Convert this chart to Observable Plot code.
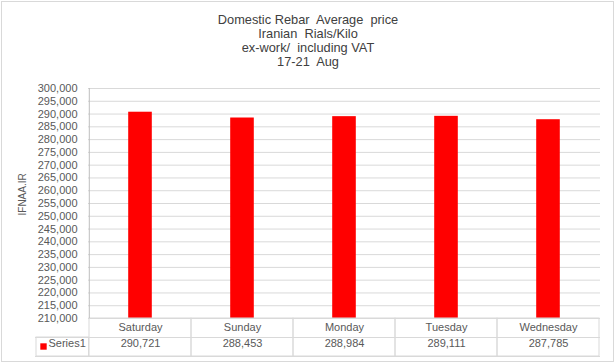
<!DOCTYPE html>
<html>
<head>
<meta charset="utf-8">
<script src="https://cdn.jsdelivr.net/npm/d3@7"></script>
<script src="https://cdn.jsdelivr.net/npm/@observablehq/plot@0.6"></script>
<style>
  html, body { margin: 0; padding: 0; background: #fff; }
  #wrap { position: relative; width: 614px; height: 363px; overflow: hidden; background: #fff; }
  #title { position: absolute; left: 1px; top: 13px; width: 614px; text-align: center;
    font-family: "Liberation Sans", Arial, sans-serif; font-size: 12.8px; line-height: 14px; color: #404040; white-space: pre; }
  #border { position: absolute; left: 1px; top: 1px; width: 611px; height: 359px; border: 1px solid #d9d9d9; pointer-events: none; }
  #chart { position: absolute; left: 0; top: 0; }
</style>
</head>
<body>
<div id="wrap">
  <div id="chart"></div>
  <div id="title"></div>
  <div id="border"></div>
</div>
<script>
const titleLines = ["Domestic Rebar  Average  price", "Iranian  Rials/Kilo", "ex-work/  including VAT", "17-21  Aug"];
const days = ["Saturday", "Sunday", "Monday", "Tuesday", "Wednesday"];
const prices = [290721, 288453, 288984, 289111, 287785];
const yTicks = [210000, 215000, 220000, 225000, 230000, 235000, 240000, 245000, 250000, 255000,
  260000, 265000, 270000, 275000, 280000, 285000, 290000, 295000, 300000];
const yMin = 210000, yMax = 300000;
const seriesName = "Series1";
const axisTitle = "IFNAA.IR";

document.getElementById("title").textContent = titleLines.join("\n");

const data = days.map((day, i) => ({day, price: prices[i]}));
const fmt = d3.format(",");
const grid = "#d9d9d9";
const textColor = "#595959";

const chart = Plot.plot({
  width: 614,
  height: 363,
  marginTop: 88,
  marginBottom: 45,
  marginLeft: 88,
  marginRight: 14,
  style: {fontFamily: "'Liberation Sans', Arial, sans-serif", fontSize: "11px", color: textColor, background: "transparent"},
  x: {domain: days, padding: 0, label: null},
  y: {domain: [yMin, yMax], label: null},
  marks: [
    Plot.gridY(yTicks, {stroke: grid, strokeOpacity: 1}),
    Plot.barY(data, {x: "day", y1: () => yMin, y2: "price", fill: "#ff0000", insetLeft: 39.2, insetRight: 39.2}),
    Plot.axisY(yTicks, {tickSize: 0, tickPadding: 11, tickFormat: fmt, label: null, fill: textColor}),
    Plot.axisX({tickSize: 0, tickPadding: 5, label: null, fill: textColor}),
    // table cells
    Plot.cell(days, {x: d => d, fill: "none", stroke: grid, insetTop: 230, insetBottom: -38}),
    Plot.ruleY([yMin], {dy: 19, insetLeft: -53, stroke: grid}),
    Plot.ruleY([yMin], {dy: 38, insetLeft: -53, stroke: grid}),
    Plot.cell(days.slice(0, 1), {x: d => d, fill: "none", stroke: grid, dx: -53, insetRight: 49.4, insetTop: 249, insetBottom: -38}),
    // y axis line
    Plot.ruleX(days.slice(0, 1), {x: d => d, dx: -51.2, stroke: "#bfbfbf", insetBottom: 0}),
    // values row
    Plot.text(data, {x: "day", text: d => fmt(d.price), frameAnchor: "bottom", dy: 28, fill: textColor}),
    // legend
    Plot.dot([seriesName], {frameAnchor: "bottom-left", dx: -45, dy: 28, symbol: "square", r: 3.6, fill: "#ff0000", stroke: "none"}),
    Plot.text([seriesName], {text: d => d, frameAnchor: "bottom-left", textAnchor: "start", dx: -40, dy: 28, fill: textColor}),
    // axis title
    Plot.text([axisTitle], {text: d => d, frameAnchor: "left", rotate: -90, dx: -66, dy: 12, fontSize: 10, fill: textColor})
  ]
});
document.getElementById("chart").appendChild(chart);
</script>
</body>
</html>
